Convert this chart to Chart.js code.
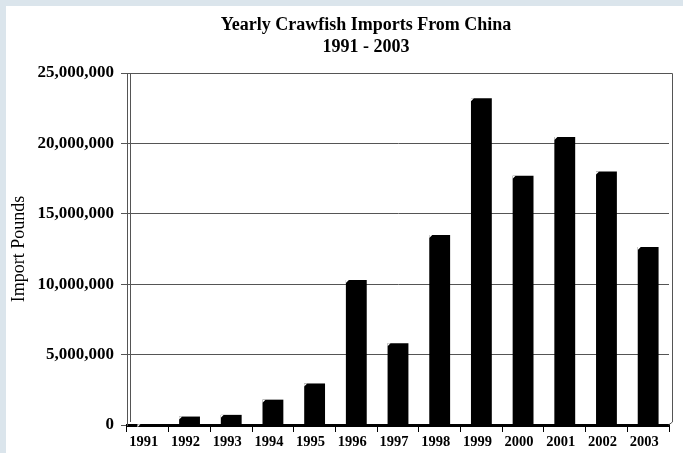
<!DOCTYPE html>
<html>
<head>
<meta charset="utf-8">
<script src="https://cdn.jsdelivr.net/npm/chart.js@4"></script>
<style>
  html, body { margin: 0; padding: 0; background: #dbe5ec; width: 683px; height: 453px; overflow: hidden; }
  #box { position: absolute; left: 6px; top: 6px; width: 677px; height: 447px; background: #fff; }
</style>
</head>
<body>
<div id="box"><canvas id="chart" width="677" height="447"></canvas></div>
<script>
const years = ['1991', '1992', '1993', '1994', '1995', '1996', '1997', '1998', '1999', '2000', '2001', '2002', '2003'];
const pounds = [60000, 600000, 720000, 1800000, 2950000, 10300000, 5800000, 13500000, 23200000, 17700000, 20450000, 18000000, 12650000];
const titleLines = ['Yearly Crawfish Imports From China', '1991 - 2003'];
const yMax = 25000000;
const yStep = 5000000;

const serif = '"Liberation Serif", "Times New Roman", serif';

// titulo centrado como en la imagen original
const tituloPlugin = {
    id: 'titulo',
    afterDraw(chart) {
        const ctx = chart.ctx;
        ctx.save();
        ctx.fillStyle = '#000';
        ctx.font = 'bold 18px ' + serif;
        ctx.textAlign = 'center';
        ctx.textBaseline = 'alphabetic';
        ctx.fillText(titleLines[0], 360, 24);
        ctx.fillText(titleLines[1], 360, 46);
        ctx.restore();
    }
};

// marco del area del grafico (pared de fondo)
const marcoPlugin = {
    id: 'marco',
    beforeDatasetsDraw(chart) {
        const a = chart.chartArea;
        const ctx = chart.ctx;
        ctx.save();
        ctx.strokeStyle = '#555';
        ctx.lineWidth = 1;
        ctx.beginPath();
        ctx.moveTo(a.left + 3.5, a.top + 0.5);
        ctx.lineTo(a.right + 3.5, a.top + 0.5);
        ctx.lineTo(a.right + 3.5, a.bottom - 3);
        ctx.lineTo(a.right - 0.5, a.bottom);
        ctx.moveTo(a.left + 3.5, a.top + 0.5);
        ctx.lineTo(a.left + 3.5, a.bottom - 3);
        ctx.stroke();
        ctx.restore();
    },
    afterDatasetsDraw(chart) {
        // esquina recortada de cada barra (efecto 3D)
        const ctx = chart.ctx;
        const meta = chart.getDatasetMeta(0);
        ctx.save();
        ctx.fillStyle = '#fff';
        meta.data.forEach(bar => {
            const left = bar.x - bar.width / 2;
            ctx.beginPath();
            ctx.moveTo(left, bar.y);
            ctx.lineTo(left + 3, bar.y);
            ctx.lineTo(left, bar.y + 3);
            ctx.closePath();
            ctx.fill();
        });
        ctx.restore();
    }
};

new Chart(document.getElementById('chart'), {
    type: 'bar',
    data: {
        labels: years,
        datasets: [{
            label: 'Import Pounds',
            data: pounds,
            backgroundColor: '#000',
            borderWidth: 0,
            barPercentage: 0.5,
            categoryPercentage: 1
        }]
    },
    options: {
        responsive: false,
        animation: false,
        layout: { padding: { left: 0, right: 14, top: 67, bottom: 0 } },
        plugins: {
            legend: { display: false },
            title: { display: false },
            tooltip: { enabled: false }
        },
        scales: {
            x: {
                offset: true,
                grid: {
                    offset: true,
                    drawOnChartArea: false,
                    drawTicks: true,
                    tickLength: 7,
                    color: '#000'
                },
                border: { display: true, color: '#000', width: 3 },
                ticks: {
                    color: '#000',
                    font: { family: serif, size: 14.5, weight: 'bold' },
                    maxRotation: 0,
                    padding: 2,
                    labelOffset: -4
                },
                afterFit(scale) { scale.height = 28; }
            },
            y: {
                min: 0,
                max: yMax,
                ticks: {
                    stepSize: yStep,
                    color: '#000',
                    font: { family: serif, size: 17, weight: 'bold' },
                    padding: 7,
                    callback: v => v.toLocaleString('en-US')
                },
                grid: {
                    color: '#555',
                    tickLength: 6,
                    drawTicks: true
                },
                border: { display: true, color: '#555', width: 1 },
                title: {
                    display: true,
                    text: 'Import Pounds',
                    color: '#000',
                    font: { family: serif, size: 18 },
                    padding: { top: 2, bottom: 0 }
                },
                afterFit(scale) { scale.width = 121; }
            }
        }
    },
    plugins: [tituloPlugin, marcoPlugin]
});
</script>
</body>
</html>
